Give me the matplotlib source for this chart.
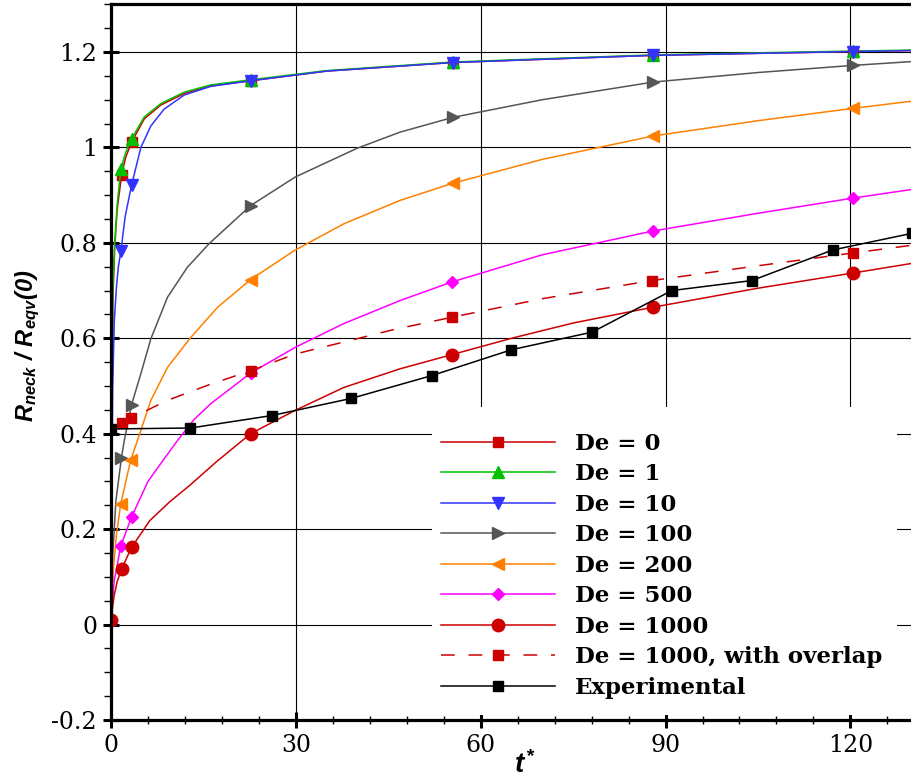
import matplotlib
matplotlib.use('Agg')
import matplotlib.pyplot as plt
from matplotlib.patches import Rectangle
import numpy as np

# ---- data ----
t_de0 = [0, 0.15, 0.3, 0.6, 1.0, 1.73, 2.4, 3.35, 5.4, 8.1, 11.9, 16.2, 22.8, 35, 55.5, 88, 120.5, 130]
r_de0 = [0.01, 0.4, 0.68, 0.79, 0.87, 0.943, 0.98, 1.011, 1.06, 1.089, 1.113, 1.129, 1.14, 1.16, 1.178, 1.193, 1.201, 1.203]
mk_de0 = [1.73, 3.35, 22.8, 55.5, 88, 120.5]

t_de1 = [0, 0.15, 0.3, 0.6, 1.0, 1.6, 2.4, 3.34, 5.4, 8.1, 11.9, 16.2, 22.8, 35, 55.5, 88, 120.5, 130]
r_de1 = [0.01, 0.42, 0.7, 0.8, 0.88, 0.955, 0.99, 1.018, 1.064, 1.092, 1.116, 1.131, 1.142, 1.161, 1.179, 1.194, 1.202, 1.204]
mk_de1 = [1.6, 3.34, 22.8, 55.5, 88, 120.5]

t_de10 = [0, 0.15, 0.27, 0.54, 0.9, 1.2, 1.62, 2.3, 3.34, 4.85, 6.47, 8.6, 11.9, 16.2, 22.8, 35, 55.5, 88, 120.5, 130]
r_de10 = [0.01, 0.3, 0.497, 0.637, 0.71, 0.75, 0.784, 0.855, 0.921, 1.0, 1.045, 1.08, 1.11, 1.128, 1.14, 1.16, 1.178, 1.193, 1.201, 1.203]
mk_de10 = [1.62, 3.34, 22.8, 55.5, 88, 120.5]

t_de100 = [0, 0.3, 0.8, 1.7, 2.16, 3.34, 4.85, 6.47, 9.17, 12.4, 15.9, 22.65, 29.9, 39.9, 46.9, 55.5, 70, 88, 105, 120.5, 130]
r_de100 = [0.01, 0.15, 0.26, 0.35, 0.386, 0.461, 0.526, 0.599, 0.686, 0.749, 0.798, 0.878, 0.938, 0.998, 1.032, 1.063, 1.1, 1.137, 1.157, 1.172, 1.18]
mk_de100 = [1.7, 3.34, 22.65, 55.5, 88, 120.5]

t_de200 = [0, 0.4, 0.9, 1.57, 3.2, 4.3, 6.47, 9.17, 12.9, 17.3, 22.65, 29.9, 37.8, 46.9, 55.5, 70, 88, 105, 120.5, 130]
r_de200 = [0.01, 0.12, 0.19, 0.252, 0.345, 0.386, 0.47, 0.539, 0.601, 0.665, 0.723, 0.785, 0.84, 0.889, 0.925, 0.975, 1.024, 1.056, 1.082, 1.097]
mk_de200 = [1.57, 3.2, 22.65, 55.5, 88, 120.5]

t_de500 = [0, 0.5, 1.57, 3.35, 6, 8.5, 10.8, 13.5, 16.2, 22.65, 29.9, 37.8, 46.9, 55.3, 70, 88, 105, 120.5, 130]
r_de500 = [0.01, 0.09, 0.164, 0.226, 0.3, 0.345, 0.386, 0.43, 0.463, 0.527, 0.581, 0.631, 0.679, 0.718, 0.775, 0.825, 0.862, 0.894, 0.912]
mk_de500 = [1.57, 3.35, 22.65, 55.3, 88, 120.5]

t_de1000 = [0, 0.5, 1.0, 1.73, 3.35, 6.3, 9.5, 12.8, 17, 22.65, 29.9, 37.8, 46.9, 55.4, 65, 75, 87.9, 105, 120.5, 130]
r_de1000 = [0.01, 0.06, 0.09, 0.117, 0.162, 0.218, 0.257, 0.292, 0.34, 0.4, 0.449, 0.497, 0.536, 0.566, 0.6, 0.632, 0.665, 0.705, 0.737, 0.757]
mk_de1000 = [0, 1.73, 3.35, 22.65, 55.4, 87.9, 120.5]

t_ovl = [1.73, 3.3, 9.17, 16, 22.65, 29.9, 39.9, 45.8, 55.3, 70, 87.8, 105, 120.5, 130]
r_ovl = [0.422, 0.433, 0.47, 0.503, 0.532, 0.567, 0.599, 0.618, 0.644, 0.683, 0.721, 0.752, 0.779, 0.795]
mk_ovl = [1.73, 3.3, 22.65, 55.3, 87.8, 120.5]

t_exp = [0, 12.9, 26.05, 39.0, 52.1, 65.0, 78.1, 91.0, 104.0, 117.1, 130]
r_exp = [0.41, 0.412, 0.438, 0.474, 0.522, 0.576, 0.613, 0.700, 0.721, 0.785, 0.82]

xticks = [0, 30, 60, 90, 120]
yticks = [-0.2, 0, 0.2, 0.4, 0.6, 0.8, 1.0, 1.2]
ytick_labels = ['-0.2', '0', '0.2', '0.4', '0.6', '0.8', '1', '1.2']

plt.rcParams['mathtext.fontset'] = 'custom'
plt.rcParams['mathtext.it'] = 'Liberation Sans:italic:bold'
plt.rcParams['mathtext.rm'] = 'Liberation Sans:italic:bold'
plt.rcParams['mathtext.bf'] = 'Liberation Sans:italic:bold'


def idx(t, marks):
    # positions of the marked points inside the curve
    return [list(t).index(m) for m in marks]


fig = plt.figure(figsize=(9.12, 7.8), dpi=100)
ax = fig.add_axes([0.1217, 0.0769, 0.8783, 0.9176])

lw = 1.1
ax.plot(t_de0, r_de0, color='#cc0000', lw=lw, marker='s', ms=6.5, markevery=idx(t_de0, mk_de0), label='De = 0')
ax.plot(t_de1, r_de1, color='#00c000', lw=lw, marker='^', ms=8, markevery=idx(t_de1, mk_de1), label='De = 1')
ax.plot(t_de10, r_de10, color='#3333ff', lw=lw, marker='v', ms=8, markevery=idx(t_de10, mk_de10), label='De = 10')
ax.plot(t_de100, r_de100, color='#555555', lw=lw, marker='>', ms=8, markevery=idx(t_de100, mk_de100), label='De = 100')
ax.plot(t_de200, r_de200, color='#ff8000', lw=lw, marker='<', ms=8, markevery=idx(t_de200, mk_de200), label='De = 200')
ax.plot(t_de500, r_de500, color='#ff00ff', lw=lw, marker='D', ms=6.5, markevery=idx(t_de500, mk_de500), label='De = 500')
ax.plot(t_de1000, r_de1000, color='#cc0000', lw=lw, marker='o', ms=9, markevery=idx(t_de1000, mk_de1000), label='De = 1000')
ax.plot(t_ovl, r_ovl, color='#cc0000', lw=lw, linestyle=(0, (9, 9)), marker='s', ms=6.5,
        markevery=idx(t_ovl, mk_ovl), label='De = 1000, with overlap')
ax.plot(t_exp, r_exp, color='black', lw=lw, marker='s', ms=7, label='Experimental')

ax.set_xlim(0, 130)
ax.set_ylim(-0.2, 1.3)
ax.set_xticks(xticks)
ax.set_xticks(np.arange(0, 131, 6), minor=True)
ax.set_yticks(yticks)
ax.set_yticklabels(ytick_labels)
ax.set_yticks(np.arange(-0.2, 1.31, 0.05), minor=True)

ax.grid(True, which='major', color='black', lw=0.8)
ax.set_axisbelow(True)

for side in ['left', 'bottom', 'top']:
    ax.spines[side].set_linewidth(2.3)
ax.spines['right'].set_visible(False)

ax.tick_params(axis='both', which='major', direction='inout', length=12, width=2.2,
               labelsize=17, pad=4)
ax.tick_params(axis='y', which='minor', direction='out', length=5, width=1)
ax.tick_params(axis='x', which='minor', direction='inout', length=6, width=1)
for lab in ax.get_xticklabels() + ax.get_yticklabels():
    lab.set_fontfamily('DejaVu Serif')

ax.set_xlabel(r'$t^{*}$', fontsize=20)
ax.xaxis.set_label_coords(0.517, -0.043)
ax.set_ylabel(r'$R_{neck}\ /\ R_{eqv}(0)$', fontsize=17)
ax.yaxis.set_label_coords(-0.086, 0.523)

# white block behind the legend, hiding the grid there
ax.add_patch(Rectangle((0.4007, 0.007), 0.5805, 0.4304, transform=ax.transAxes,
                       facecolor='white', edgecolor='none', zorder=4))
leg = ax.legend(loc='upper left', bbox_to_anchor=(0.4116, 0.401), borderaxespad=0,
                frameon=False, handlelength=5.0, handletextpad=0.87, labelspacing=0.37,
                borderpad=0, prop={'family': 'DejaVu Serif', 'weight': 'bold', 'size': 16.5})
leg.set_zorder(5)

fig.savefig('out.png', dpi=100)
